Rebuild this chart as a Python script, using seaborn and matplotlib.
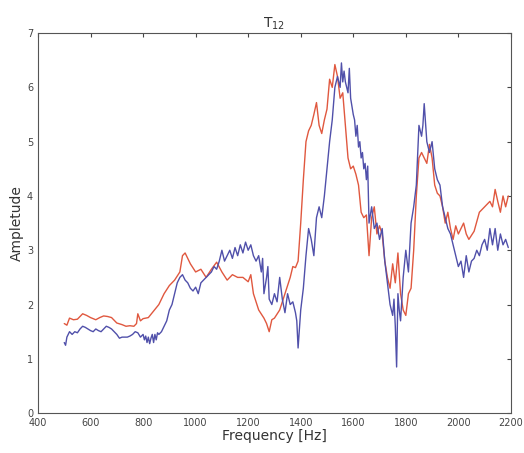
import matplotlib
matplotlib.use("Agg")
import matplotlib.pyplot as plt
import seaborn as sns

# values
freq_red = [500, 510, 520, 535, 550, 570, 585, 600, 620, 635, 650, 665, 680, 700, 720, 735, 750, 765,
            775, 780, 790, 800, 820, 840, 860, 880, 900, 920, 940, 950, 960, 970, 980, 1000, 1020,
            1040, 1060, 1080, 1100, 1120, 1140, 1160, 1180, 1200, 1210, 1220, 1240, 1260, 1270, 1280,
            1290, 1300, 1320, 1340, 1360, 1370, 1380, 1390, 1400, 1410, 1420, 1430, 1440, 1450, 1460,
            1470, 1480, 1490, 1500, 1510, 1520, 1530, 1540, 1550, 1560, 1570, 1580, 1590, 1600, 1610,
            1620, 1630, 1640, 1650, 1660, 1670, 1680, 1690, 1700, 1710, 1720, 1730, 1740, 1750, 1760,
            1770, 1780, 1790, 1800, 1810, 1820, 1830, 1840, 1850, 1860, 1870, 1880, 1890, 1900, 1910,
            1920, 1930, 1940, 1950, 1960, 1970, 1980, 1990, 2000, 2010, 2020, 2030, 2040, 2060, 2080,
            2100, 2120, 2130, 2140, 2150, 2160, 2170, 2180, 2190]
amp_red = [1.65, 1.62, 1.75, 1.72, 1.73, 1.83, 1.8, 1.76, 1.72, 1.76, 1.79, 1.78, 1.76, 1.66, 1.63,
           1.6, 1.61, 1.6, 1.65, 1.83, 1.7, 1.74, 1.76, 1.88, 2.0, 2.2, 2.35, 2.45, 2.6, 2.9, 2.95,
           2.85, 2.75, 2.6, 2.65, 2.5, 2.65, 2.78, 2.6, 2.45, 2.55, 2.5, 2.5, 2.42, 2.55, 2.2, 1.9,
           1.75, 1.65, 1.5, 1.72, 1.75, 1.9, 2.2, 2.5, 2.7, 2.68, 2.8, 3.5, 4.3, 5.0, 5.2, 5.3, 5.5,
           5.72, 5.3, 5.15, 5.4, 5.6, 6.15, 6.0, 6.42, 6.2, 5.8, 5.9, 5.3, 4.7, 4.5, 4.55, 4.4, 4.2,
           3.7, 3.6, 3.65, 2.9, 3.6, 3.8, 3.3, 3.45, 3.3, 2.8, 2.5, 2.3, 2.75, 2.4, 2.95, 2.2, 1.9,
           1.8, 2.2, 2.3, 3.0, 4.0, 4.7, 4.8, 4.7, 4.6, 4.95, 4.7, 4.2, 4.05, 4.0, 3.8, 3.5, 3.7,
           3.4, 3.2, 3.45, 3.3, 3.4, 3.5, 3.3, 3.2, 3.35, 3.7, 3.8, 3.9, 3.8, 4.12, 3.9, 3.7, 4.0,
           3.8, 4.0]

freq_blue = [500, 505, 510, 520, 530, 540, 550, 560, 570, 580, 590, 600, 610, 620, 630, 640, 650, 660,
             670, 680, 690, 700, 710, 720, 730, 740, 750, 760, 770, 780, 790, 800, 805, 810, 815, 820,
             825, 830, 835, 840, 845, 850, 855, 860, 870, 880, 890, 900, 910, 920, 930, 940, 950, 960,
             970, 980, 990, 1000, 1010, 1020, 1030, 1040, 1050, 1060, 1070, 1080, 1090, 1100, 1110,
             1120, 1130, 1140, 1150, 1160, 1170, 1180, 1190, 1200, 1210, 1220, 1230, 1240, 1250, 1255,
             1260, 1270, 1275, 1280, 1290, 1300, 1310, 1320, 1330, 1340, 1350, 1360, 1370, 1380, 1385,
             1390, 1400, 1410, 1420, 1430, 1440, 1450, 1460, 1470, 1480, 1490, 1500, 1510, 1520, 1530,
             1540, 1550, 1555, 1560, 1565, 1570, 1580, 1585, 1590, 1600, 1605, 1610, 1615, 1620, 1625,
             1630, 1635, 1640, 1645, 1650, 1655, 1660, 1670, 1680, 1690, 1700, 1710, 1720, 1730, 1740,
             1750, 1755, 1760, 1765, 1770, 1775, 1780, 1790, 1800, 1810, 1820, 1830, 1840, 1850, 1860,
             1865, 1870, 1880, 1890, 1900, 1910, 1920, 1930, 1940, 1950, 1960, 1970, 1980, 1990, 2000,
             2010, 2020, 2030, 2040, 2050, 2060, 2070, 2080, 2090, 2100, 2110, 2120, 2130, 2140, 2150,
             2160, 2170, 2180, 2190]
amp_blue = [1.3, 1.25, 1.4, 1.5, 1.45, 1.5, 1.48, 1.55, 1.6, 1.58, 1.55, 1.52, 1.5, 1.55, 1.52, 1.5,
            1.55, 1.6, 1.58, 1.55, 1.5, 1.45, 1.38, 1.4, 1.4, 1.4, 1.42, 1.45, 1.5, 1.48, 1.4, 1.45,
            1.35, 1.42, 1.3, 1.4, 1.28, 1.38, 1.45, 1.3, 1.45, 1.35, 1.48, 1.45, 1.5, 1.6, 1.7, 1.9,
            2.0, 2.2, 2.4, 2.5, 2.55, 2.45, 2.4, 2.3, 2.25, 2.32, 2.2, 2.4, 2.45, 2.5, 2.55, 2.6,
            2.7, 2.65, 2.8, 3.0, 2.8, 2.9, 3.0, 2.85, 3.05, 2.9, 3.1, 2.95, 3.15, 3.0, 3.1, 2.9, 2.8,
            2.9, 2.6, 2.85, 2.2, 2.5, 2.7, 2.1, 2.0, 2.2, 2.05, 2.5, 2.1, 1.85, 2.2, 2.0, 2.05, 1.85,
            1.7, 1.2, 1.9, 2.3, 2.9, 3.4, 3.2, 2.9, 3.6, 3.8, 3.6, 4.0, 4.5, 5.0, 5.4, 6.0, 6.2, 6.0,
            6.45, 6.1, 6.3, 6.1, 5.9, 6.35, 5.8, 5.5, 5.4, 5.1, 5.3, 4.9, 5.0, 4.7, 4.8, 4.5, 4.6,
            4.3, 4.55, 3.5, 3.8, 3.4, 3.5, 3.2, 3.4, 2.8, 2.4, 2.0, 1.8, 2.1, 1.6, 0.85, 2.2, 1.9,
            1.7, 2.5, 3.0, 2.6, 3.5, 3.8, 4.2, 5.3, 5.1, 5.3, 5.7, 5.0, 4.8, 5.0, 4.5, 4.3, 4.2,
            3.8, 3.6, 3.4, 3.3, 3.1, 2.9, 2.7, 2.8, 2.5, 2.9, 2.6, 2.8, 2.85, 3.0, 2.9, 3.1, 3.2,
            3.0, 3.4, 3.1, 3.4, 3.0, 3.3, 3.1, 3.2, 3.05]

x_ticks = [400, 600, 800, 1000, 1200, 1400, 1600, 1800, 2000, 2200]
y_ticks = [0, 1, 2, 3, 4, 5, 6, 7]

sns.set_style("white")
fig = plt.figure(figsize=(5.24, 4.53), dpi=100)
ax = fig.add_axes([0.0725, 0.088, 0.9025, 0.839])

sns.lineplot(x=freq_red, y=amp_red, color="#e0583f", linewidth=1.0, estimator=None, sort=False, ax=ax)
sns.lineplot(x=freq_blue, y=amp_blue, color="#5050aa", linewidth=1.0, estimator=None, sort=False, ax=ax)

ax.set_xlim(400, 2200)
ax.set_ylim(0, 7)
ax.set_xticks(x_ticks)
ax.set_yticks(y_ticks)
ax.tick_params(direction="in", length=3, labelsize=7, colors="#444444", top=True, right=True)
for s in ax.spines.values():
    s.set_color("#555555")
    s.set_linewidth(0.8)
ax.set_xlabel("Frequency [Hz]", fontsize=10, color="#333333", labelpad=1)
ax.set_ylabel("Ampletude", fontsize=10, color="#333333", labelpad=2)
ax.set_title("T$_{12}$", fontsize=10, color="#333333", pad=4)

fig.savefig("out.png", dpi=100)
